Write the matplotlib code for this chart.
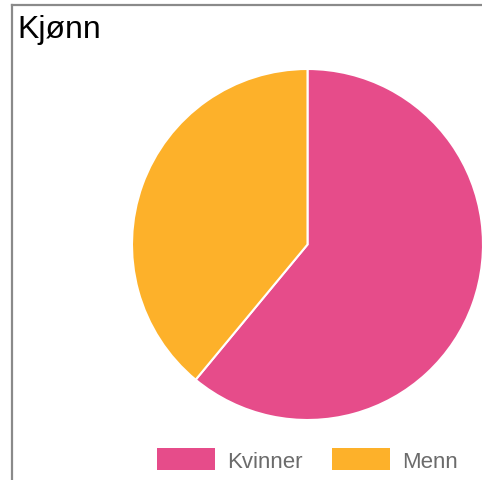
import matplotlib
matplotlib.use("Agg")
import matplotlib.pyplot as plt
from matplotlib.patches import Patch
from matplotlib.lines import Line2D

plt.rcParams['font.family'] = ['Liberation Sans', 'DejaVu Sans']

title = "Kjønn"
categories = ["Kvinner", "Menn"]
values = [61, 39]
colors = ["#E64C8A", "#FDB12A"]

W, H = 482, 481
fig = plt.figure(figsize=(W / 100, H / 100), dpi=100)

# frame lines (top and left)
fig.add_artist(Line2D([11.5 / W, 1.0], [1 - 5.5 / H, 1 - 5.5 / H], transform=fig.transFigure,
                      color="#8a8a8a", linewidth=1.6))
fig.add_artist(Line2D([11.5 / W, 11.5 / W], [0, 1 - 5.5 / H], transform=fig.transFigure,
                      color="#8a8a8a", linewidth=1.6))

fig.text(17 / W, 1 - 30 / H, title, fontsize=23, color="#000000", va="center", ha="left")

ax = fig.add_axes([132 / W, (H - 421) / H, 351 / W, 351 / H])
ax.pie(values, colors=colors, startangle=90, counterclock=False, radius=1,
       wedgeprops=dict(edgecolor="white", linewidth=1.5))
ax.set_xlim(-1.0, 1.0)
ax.set_ylim(-1.0, 1.0)
ax.set_aspect("equal")
ax.axis("off")

handles = [Patch(facecolor=c, edgecolor="none") for c in colors]
leg = fig.legend(handles, categories, loc="center", bbox_to_anchor=(307.5 / W, (H - 461) / H),
                 ncol=2, frameon=False, fontsize=16, handlelength=2.6, handleheight=1.1,
                 handletextpad=0.55, columnspacing=1.3, borderpad=0, borderaxespad=0)
for t in leg.get_texts():
    t.set_color("#6b6b6b")

fig.savefig("out.png", dpi=100)
